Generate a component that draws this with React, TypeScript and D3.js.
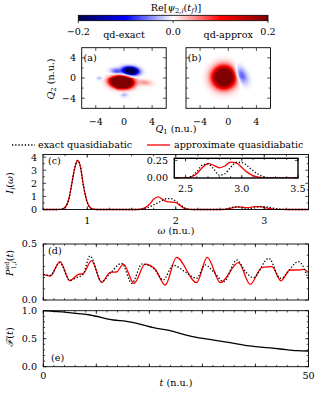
import React from 'react';
import * as d3 from 'd3';

// ---------- data ----------
const cbTicks = [-0.2, 0.0, 0.2];
const qMajor = [-4, 0, 4];
const qMinor = [-2, 2];

interface Lobe { q1: number; q2: number; s1: number; s2: number; rot: number; amp: number; }

// wavepacket lobes (centre, widths, tilt in degrees, amplitude)
const lobesExact: Lobe[] = [
    { q1: -0.35, q2: -0.85, s1: 0.9, s2: 0.68, rot: -12, amp: 0.9 },
    { q1: 1.0, q2: 1.5, s1: 0.72, s2: 0.5, rot: -12, amp: -0.32 },
    { q1: -1.1, q2: 1.4, s1: 0.6, s2: 0.42, rot: -12, amp: -0.07 },
    { q1: -3.5, q2: -0.05, s1: 0.3, s2: 0.3, rot: 0, amp: -0.03 },
    { q1: 0.1, q2: -3.4, s1: 0.35, s2: 0.3, rot: 0, amp: -0.03 },
    { q1: 3.0, q2: -1.0, s1: 0.7, s2: 0.4, rot: -10, amp: 0.04 },
];
const lobesApprox: Lobe[] = [
    { q1: -0.64, q2: 0.14, s1: 0.97, s2: 1.35, rot: 0, amp: 0.45 },
    { q1: 1.73, q2: 0.6, s1: 0.55, s2: 1.2, rot: 16, amp: -0.08 },
];

const omega = [0.5, 0.65, 0.7, 0.75, 0.8, 0.825, 0.85, 0.875, 0.89, 0.925, 0.95, 0.975, 1.0, 1.05, 1.1, 1.15,
    1.55, 1.6, 1.65, 1.7, 1.75, 1.8, 1.85, 1.9, 1.95, 2.0, 2.05, 2.1, 2.15, 2.2,
    2.5, 2.55, 2.6, 2.65, 2.7, 2.75, 2.8, 2.85, 2.9, 2.95, 3.0, 3.05, 3.1, 3.15, 3.2, 3.25, 3.3, 3.5];
const intensityExact = [0, 0, 0.01, 0.17, 1.03, 1.95, 2.9, 3.55, 3.75, 3.2, 2.1, 1.2, 0.55, 0.06, 0, 0,
    0, 0.02, 0.08, 0.2, 0.35, 0.52, 0.7, 0.83, 0.82, 0.65, 0.38, 0.13, 0.03, 0,
    0, 0.02, 0.09, 0.185, 0.2, 0.13, 0.04, 0.06, 0.15, 0.22, 0.22, 0.17, 0.105, 0.05, 0.015, 0.003, 0, 0];
const intensityApprox = [0, 0, 0.01, 0.17, 1.03, 1.95, 2.9, 3.55, 3.75, 3.2, 2.1, 1.2, 0.55, 0.06, 0, 0,
    0, 0.02, 0.12, 0.38, 0.78, 0.97, 0.78, 0.6, 0.57, 0.52, 0.3, 0.08, 0.01, 0,
    0, 0.015, 0.06, 0.15, 0.205, 0.18, 0.145, 0.17, 0.225, 0.215, 0.15, 0.08, 0.035, 0.012, 0.003, 0, 0, 0];

const popTimeExact = [0, 1.3, 3.1, 5.0, 6.3, 7.5, 8.8, 11.0, 12.6, 14.8, 16.7, 18.6, 20.8, 22.6, 24.5, 26.7,
    28.9, 30.5, 32.1, 34.0, 36.5, 38.1, 39.6, 42.5, 44.7, 48.1, 50];
const popExact = [0.229, 0.22, 0.333, 0.177, 0.2, 0.229, 0.393, 0.164, 0.238, 0.327, 0.149, 0.321, 0.283, 0.179, 0.31, 0.253,
    0.194, 0.313, 0.253, 0.164, 0.357, 0.253, 0.2, 0.372, 0.194, 0.342, 0.185];
const popTimeApprox = [0, 1.3, 3.15, 5.0, 6.6, 7.5, 9.1, 11.0, 12.6, 13.8, 15.1, 17.1, 19.2, 21.1, 23.0, 25.1,
    28.9, 30.9, 33.4, 36.8, 39.0, 41.2, 43.1, 44.8, 46.5, 48.1, 49.1, 50];
const popApprox = [0.229, 0.214, 0.342, 0.172, 0.229, 0.235, 0.351, 0.155, 0.247, 0.25, 0.321, 0.149, 0.321, 0.274, 0.134, 0.38,
    0.155, 0.381, 0.155, 0.333, 0.14, 0.289, 0.298, 0.172, 0.268, 0.268, 0.274, 0.244];

const fidTime = [0, 4.4, 8.8, 13.2, 15.7, 18.2, 20.8, 23.9, 26.4, 28.9, 32.1, 35.2, 38.4, 41.5, 44.7, 47.8, 50];
const fidelity = [1.0, 0.97, 0.923, 0.834, 0.81, 0.762, 0.697, 0.643, 0.578, 0.524, 0.476, 0.429, 0.375, 0.346, 0.316, 0.286, 0.28];

// ---------- layout ----------
const FONT = "'DejaVu Serif', serif";
const FS = 9.6;

const seismic = d3.scaleLinear<string>()
    .domain([-0.2, -0.1, 0, 0.1, 0.2])
    .range(['#00004d', '#0000ff', '#ffffff', '#ff0000', '#800000'])
    .clamp(true);

const evalLobes = (lobes: Lobe[], q1: number, q2: number) => {
    let v = 0;
    lobes.forEach(l => {
        const th = l.rot * Math.PI / 180;
        const d1 = q1 - l.q1, d2 = q2 - l.q2;
        const u = d1 * Math.cos(th) + d2 * Math.sin(th);
        const w = -d1 * Math.sin(th) + d2 * Math.cos(th);
        v += l.amp * Math.exp(-0.5 * (u * u / (l.s1 * l.s1) + w * w / (l.s2 * l.s2)));
    });
    return v;
};

type Lin = d3.ScaleLinear<number, number>;

const Frame: React.FC<{ sx: Lin; sy: Lin; xMaj: number[]; xMin?: number[]; yMaj: number[]; yMin?: number[]; sw?: number }> =
    ({ sx, sy, xMaj, xMin = [], yMaj, yMin = [], sw = 0.9 }) => {
        const [x0, x1] = sx.range();
        const [yb, yt] = sy.range();
        const L = 3.2, l = 1.8;
        const segs: string[] = [];
        xMaj.forEach(v => { const x = sx(v); segs.push(`M${x},${yb}v${-L}M${x},${yt}v${L}`); });
        xMin.forEach(v => { const x = sx(v); segs.push(`M${x},${yb}v${-l}M${x},${yt}v${l}`); });
        yMaj.forEach(v => { const y = sy(v); segs.push(`M${x0},${y}h${L}M${x1},${y}h${-L}`); });
        yMin.forEach(v => { const y = sy(v); segs.push(`M${x0},${y}h${l}M${x1},${y}h${-l}`); });
        return (
            <g>
                <path d={segs.join('')} stroke="#000" strokeWidth={0.7} fill="none" />
                <rect x={x0} y={yt} width={x1 - x0} height={yb - yt} fill="none" stroke="#000" strokeWidth={sw} />
            </g>
        );
    };

const Heat: React.FC<{ lobes: Lobe[]; sx: Lin; sy: Lin }> = ({ lobes, sx, sy }) => {
    const [x0, x1] = sx.range();
    const [yb, yt] = sy.range();
    const nx = 85, ny = 61;
    const cw = (x1 - x0) / nx, ch = (yb - yt) / ny;
    const cells: JSX.Element[] = [];
    for (let i = 0; i < nx; i++) {
        for (let j = 0; j < ny; j++) {
            const px = x0 + (i + 0.5) * cw, py = yt + (j + 0.5) * ch;
            const v = evalLobes(lobes, sx.invert(px), sy.invert(py));
            if (Math.abs(v) < 0.002) continue;
            cells.push(<rect key={`${i}-${j}`} x={x0 + i * cw} y={yt + j * ch} width={cw + 0.35} height={ch + 0.35} fill={seismic(v)} />);
        }
    }
    return <g shapeRendering="crispEdges">{cells}</g>;
};

const range = (a: number, b: number, s: number) => d3.range(a, b + s / 2, s).map(v => +v.toFixed(4));

const App: React.FC = () => {
    // colour bar
    const cb = d3.scaleLinear().domain([-0.2, 0.2]).range([78.3, 268]);
    // heat maps
    const sxA = d3.scaleLinear().domain([-6, 6]).range([81.7, 166.2]);
    const sxB = d3.scaleLinear().domain([-6, 6]).range([186, 270.5]);
    const syH = d3.scaleLinear().domain([-6, 6]).range([108.3, 47.7]);
    // spectrum
    const sxC = d3.scaleLinear().domain([0.5, 3.5]).range([43, 308.5]);
    const syC = d3.scaleLinear().domain([0, 4.2]).range([209.5, 154.5]);
    const sxI = d3.scaleLinear().domain([2.4, 3.5]).range([174.3, 298]);
    const syI = d3.scaleLinear().domain([0, 0.28]).range([178, 158.3]);
    // populations / fidelity
    const sxT = d3.scaleLinear().domain([0, 50]).range([43.3, 308.5]);
    const syD = d3.scaleLinear().domain([0, 0.5]).range([300, 244]);
    const syE = d3.scaleLinear().domain([0, 1]).range([366.7, 310.7]);

    const spec = (sx: Lin, sy: Lin, ys: number[]) =>
        d3.line<number>().x((_, i) => sx(omega[i])).y(d => sy(d)).curve(d3.curveMonotoneX)(ys) || '';
    const tline = (sy: Lin, ts: number[], ys: number[]) =>
        d3.line<number>().x((_, i) => sxT(ts[i])).y(d => sy(d)).curve(d3.curveMonotoneX)(ys) || '';

    const dotted = '1.3,1.9';
    const fmt2 = d3.format('.2f');
    const fmt1 = d3.format('.1f');
    const minus = (s: string) => s.replace('-', '\u2212');

    return (
        <svg width={315} height={394} style={{ position: 'absolute', left: 0, top: 0, background: '#fff' }}
            fontFamily={FONT} fontSize={FS}>
            <defs>
                <linearGradient id="seis" x1="0" x2="1" y1="0" y2="0">
                    <stop offset="0" stopColor="#00004d" />
                    <stop offset="0.25" stopColor="#0000ff" />
                    <stop offset="0.5" stopColor="#ffffff" />
                    <stop offset="0.75" stopColor="#ff0000" />
                    <stop offset="1" stopColor="#800000" />
                </linearGradient>
                <clipPath id="clipInset"><rect x={174.3} y={158.3} width={123.7} height={19.7} /></clipPath>
            </defs>

            {/* colour bar */}
            <text x={176} y={10.5} textAnchor="middle">Re[<tspan fontStyle="italic">ψ</tspan><tspan fontSize={6.8} dy={2}>2,<tspan fontStyle="italic">i</tspan></tspan><tspan dy={-2}>(</tspan><tspan fontStyle="italic">t</tspan><tspan fontSize={6.8} fontStyle="italic" dy={2}>f</tspan><tspan dy={-2}>)]</tspan></text>
            <rect x={cb(-0.2)} y={15.3} width={cb(0.2) - cb(-0.2)} height={5.4} fill="url(#seis)" stroke="#000" strokeWidth={0.8} />
            {cbTicks.map(t => (
                <g key={t}>
                    <line x1={cb(t)} x2={cb(t)} y1={20.7} y2={23} stroke="#000" strokeWidth={0.7} />
                    <text x={cb(t)} y={34.5} textAnchor="middle">{minus(fmt1(t))}</text>
                </g>
            ))}

            {/* heat maps */}
            <text x={124} y={37.5} textAnchor="middle">qd-exact</text>
            <text x={228.2} y={37.5} textAnchor="middle">qd-approx</text>
            <Heat lobes={lobesExact} sx={sxA} sy={syH} />
            <Heat lobes={lobesApprox} sx={sxB} sy={syH} />
            <Frame sx={sxA} sy={syH} xMaj={qMajor} xMin={qMinor} yMaj={qMajor} yMin={qMinor} />
            <Frame sx={sxB} sy={syH} xMaj={qMajor} xMin={qMinor} yMaj={qMajor} yMin={qMinor} />
            <text x={83.5} y={61}>(a)</text>
            <text x={187.8} y={61}>(b)</text>
            {qMajor.map(q => (
                <g key={q}>
                    <text x={76} y={syH(q) + 3.4} textAnchor="end">{minus(String(q))}</text>
                    <text x={sxA(q)} y={124.5} textAnchor="middle">{minus(String(q))}</text>
                    <text x={sxB(q)} y={124.5} textAnchor="middle">{minus(String(q))}</text>
                </g>
            ))}
            <text x={176} y={131.5} textAnchor="middle"><tspan fontStyle="italic">Q</tspan><tspan fontSize={6.8} dy={2}>1</tspan><tspan dy={-2}> (n.u.)</tspan></text>
            <text transform="translate(54,79) rotate(-90)" textAnchor="middle"><tspan fontStyle="italic">Q</tspan><tspan fontSize={6.8} dy={2}>2</tspan><tspan dy={-2}> (n.u.)</tspan></text>

            {/* legend */}
            <line x1={12} x2={35} y1={145} y2={145} stroke="#000" strokeWidth={1.3} strokeDasharray={dotted} />
            <text x={38} y={148.3}>exact quasidiabatic</text>
            <line x1={147} x2={170} y1={145} y2={145} stroke="#ff0000" strokeWidth={1.3} />
            <text x={174} y={148.3}>approximate quasidiabatic</text>

            {/* spectrum (c) */}
            <path d={spec(sxC, syC, intensityApprox)} fill="none" stroke="#ff0000" strokeWidth={1.3} />
            <path d={spec(sxC, syC, intensityExact)} fill="none" stroke="#000" strokeWidth={1.3} strokeDasharray={dotted} />
            <Frame sx={sxC} sy={syC} xMaj={[1, 2, 3]} xMin={range(0.5, 3.5, 0.25)} yMaj={[0, 1, 2, 3, 4]} yMin={[0.5, 1.5, 2.5, 3.5]} />
            <text x={48} y={164}>(c)</text>
            {[0, 1, 2, 3, 4].map(v => <text key={v} x={37} y={syC(v) + 3.4} textAnchor="end">{v}</text>)}
            {[1, 2, 3].map(v => <text key={v} x={sxC(v)} y={224} textAnchor="middle">{v}</text>)}
            <text x={176} y={233.5} textAnchor="middle"><tspan fontStyle="italic">ω</tspan> (n.u.)</text>
            <text transform="translate(13,183) rotate(-90)" textAnchor="middle"><tspan fontStyle="italic">I</tspan><tspan fontSize={6.8} fontStyle="italic" dy={2}>i</tspan><tspan dy={-2}>(</tspan><tspan fontStyle="italic">ω</tspan>)</text>

            {/* inset */}
            <rect x={174.3} y={158.3} width={123.7} height={19.7} fill="#fff" />
            <g clipPath="url(#clipInset)">
                <path d={spec(sxI, syI, intensityApprox)} fill="none" stroke="#ff0000" strokeWidth={1.3} />
                <path d={spec(sxI, syI, intensityExact)} fill="none" stroke="#000" strokeWidth={1.3} strokeDasharray={dotted} />
            </g>
            <Frame sx={sxI} sy={syI} xMaj={[2.5, 3.0, 3.5]} xMin={range(2.4, 3.5, 0.1)} yMaj={[0, 0.25]} sw={1.4} />
            {[0, 0.25].map(v => <text key={v} x={168} y={syI(v) + 3.4} textAnchor="end">{fmt2(v)}</text>)}
            {[2.5, 3.0, 3.5].map(v => <text key={v} x={sxI(v)} y={191.5} textAnchor="middle">{fmt1(v)}</text>)}

            {/* populations (d) */}
            <path d={tline(syD, popTimeApprox, popApprox)} fill="none" stroke="#ff0000" strokeWidth={1.3} />
            <path d={tline(syD, popTimeExact, popExact)} fill="none" stroke="#000" strokeWidth={1.3} strokeDasharray={dotted} />
            <Frame sx={sxT} sy={syD} xMaj={range(0, 50, 10)} xMin={range(0, 50, 2)} yMaj={[0, 0.5]} yMin={range(0.1, 0.4, 0.1)} />
            <text x={48} y={254}>(d)</text>
            {[0, 0.5].map(v => <text key={v} x={37} y={syD(v) + 3.4} textAnchor="end">{fmt1(v)}</text>)}
            <text transform="translate(13,263) rotate(-90)" textAnchor="middle"><tspan fontStyle="italic">P</tspan><tspan fontSize={6.3} dy={-4}>ad</tspan><tspan fontSize={6.3} dx={-7.5} dy={7}>1,<tspan fontStyle="italic">i</tspan></tspan><tspan dy={-3}>(</tspan><tspan fontStyle="italic">t</tspan>)</text>

            {/* fidelity (e) */}
            <path d={tline(syE, fidTime, fidelity)} fill="none" stroke="#000" strokeWidth={1.3} />
            <Frame sx={sxT} sy={syE} xMaj={range(0, 50, 10)} xMin={range(0, 50, 2)} yMaj={[0, 0.5, 1]} yMin={range(0.1, 0.9, 0.1)} />
            <text x={51} y={361}>(e)</text>
            {[0, 0.5, 1].map(v => <text key={v} x={37} y={syE(v) + 3.4} textAnchor="end">{fmt1(v)}</text>)}
            {[0, 50].map(v => <text key={v} x={sxT(v)} y={379} textAnchor="middle">{v}</text>)}
            <text x={176} y={385.5} textAnchor="middle"><tspan fontStyle="italic">t</tspan> (n.u.)</text>
            <text transform="translate(13,337) rotate(-90)" textAnchor="middle"><tspan fontStyle="italic">ℱ</tspan>(<tspan fontStyle="italic">t</tspan>)</text>
        </svg>
    );
};

export default App;
